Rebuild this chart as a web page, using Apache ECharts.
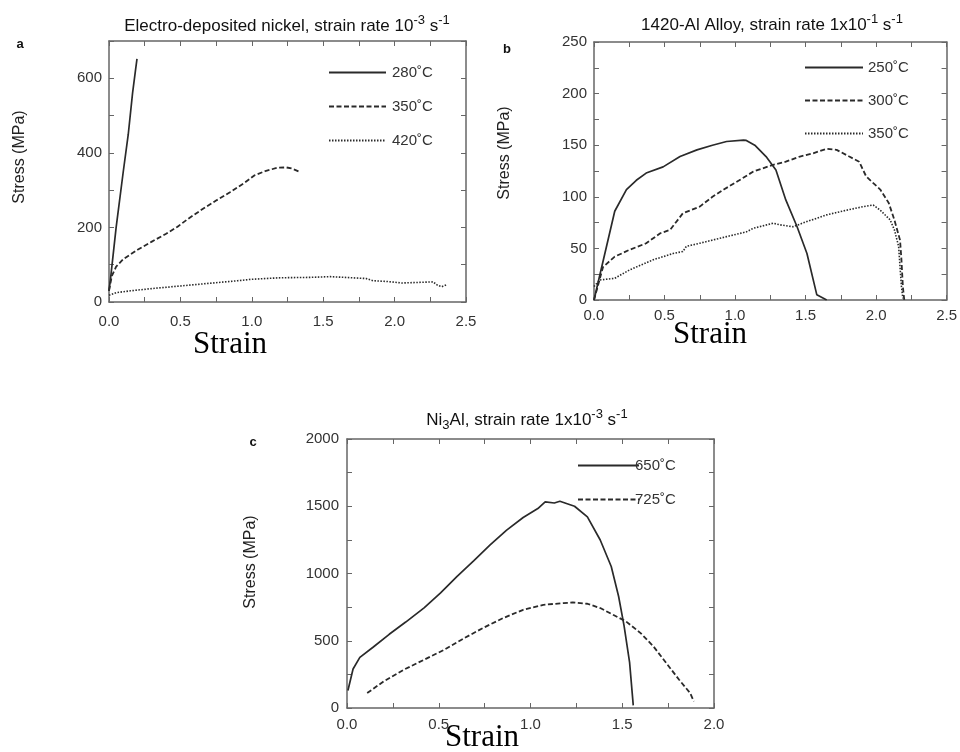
<!DOCTYPE html>
<html><head><meta charset="utf-8">
<script src="https://cdn.jsdelivr.net/npm/echarts@6/dist/echarts.min.js"></script>
<style>html,body{margin:0;padding:0;background:#fff}#c{width:960px;height:752px}</style>
</head><body><div id="c"></div>
<script>
// Panel a: Electro-deposited nickel
const a280 = [[0,30],[0.01,60],[0.05,200],[0.1,350],[0.135,450],[0.165,560],[0.185,620],[0.196,652]];
const a350 = [[0,30],[0.02,70],[0.05,95],[0.1,115],[0.2,140],[0.3,162],[0.4,183],[0.48,202],[0.55,222],[0.65,248],[0.75,272],[0.85,295],[0.95,320],[1.02,340],[1.1,352],[1.18,360],[1.24,361],[1.28,358],[1.33,350]];
const a420 = [[0,18],[0.05,25],[0.15,30],[0.3,36],[0.5,43],[0.7,50],[0.9,57],[1.0,61],[1.2,65],[1.4,66],[1.55,68],[1.7,65],[1.8,63],[1.85,57],[1.95,55],[2.05,51],[2.2,53],[2.27,54],[2.3,45],[2.33,41],[2.37,47]];
// Panel b: 1420-Al alloy
const b250 = [[0,0],[0.147,86],[0.23,107],[0.3,116],[0.37,123],[0.49,129],[0.61,139],[0.73,145.5],[0.84,150],[0.94,153.6],[1.06,155],[1.08,154.6],[1.14,150],[1.22,139],[1.29,126],[1.36,97],[1.44,71],[1.51,45],[1.58,5],[1.65,0]];
const b300 = [[0,0],[0.064,32],[0.147,42],[0.25,48.5],[0.37,55],[0.47,64.7],[0.54,68],[0.63,84],[0.75,90.5],[0.84,100],[0.92,107],[1.03,116],[1.13,124.5],[1.27,131],[1.36,134],[1.46,139],[1.55,142],[1.65,146.5],[1.72,145.5],[1.81,139],[1.88,134],[1.93,119.7],[2.03,107],[2.09,94],[2.13,77.6],[2.17,58],[2.18,39],[2.19,13],[2.2,0]];
const b350 = [[0,13],[0.04,19.4],[0.147,21],[0.25,29],[0.42,39],[0.56,45],[0.63,47],[0.655,52],[0.75,55],[0.94,61.4],[1.08,66],[1.13,69.5],[1.27,74.4],[1.32,72.8],[1.41,71],[1.51,76],[1.65,82.5],[1.79,87],[1.91,90.5],[1.98,92],[2.03,87],[2.1,77.6],[2.13,68],[2.16,52],[2.17,32],[2.18,13],[2.19,1.6]];
// Panel c: Ni3Al
const c650 = [[0.005,130],[0.033,290],[0.07,376],[0.14,450],[0.23,548],[0.32,639],[0.42,745],[0.51,856],[0.6,979],[0.69,1094],[0.78,1212],[0.87,1323],[0.96,1416],[1.04,1483],[1.08,1532],[1.13,1524],[1.16,1537],[1.24,1500],[1.31,1421],[1.38,1249],[1.44,1052],[1.48,831],[1.51,610],[1.54,339],[1.56,20]];
const c725 = [[0.11,111],[0.2,198],[0.31,285],[0.42,359],[0.53,433],[0.64,520],[0.74,594],[0.85,668],[0.96,730],[1.07,767],[1.18,780],[1.23,785],[1.31,775],[1.38,743],[1.45,693],[1.52,644],[1.6,557],[1.67,458],[1.74,334],[1.81,210],[1.87,111],[1.89,50]];
const legendA = ['280˚C','350˚C','420˚C'];
const legendB = ['250˚C','300˚C','350˚C\u200b'];
const legendC = ['650˚C','725˚C'];

const FONT = "'Liberation Sans', Arial, sans-serif";
const AX = '#666', TXT = '#333', LN = '#2a2a2a';
const solid = {color: LN, width: 1.7, type: 'solid'};
const dashed = {color: LN, width: 1.8, type: [5, 2.5]};
const dotted = {color: LN, width: 1.6, type: [1.5, 1.5]};

function xAxes(g, max, shown) {
  const base = {type:'value', gridIndex:g, min:0, max:max, interval:0.25,
    axisLine:{show:true, onZero:false, lineStyle:{color:AX, width:1.5}},
    axisTick:{show:true, inside:true, length:5, lineStyle:{color:AX}},
    splitLine:{show:false}};
  return [
    Object.assign({}, base, {position:'bottom', axisLabel:{show:true, margin:shown, color:TXT, fontSize:15, fontFamily:FONT,
      formatter: v => Math.abs(v*2 - Math.round(v*2)) < 1e-6 ? v.toFixed(1) : ''}}),
    Object.assign({}, base, {position:'top', axisLabel:{show:false}})
  ];
}
function yAxes(g, max, interval, labelStep, margin) {
  const base = {type:'value', gridIndex:g, min:0, max:max, interval:interval,
    axisLine:{show:true, onZero:false, lineStyle:{color:AX, width:1.5}},
    axisTick:{show:true, inside:true, length:5, lineStyle:{color:AX}},
    splitLine:{show:false}};
  return [
    Object.assign({}, base, {position:'left', axisLabel:{show:true, margin:margin, color:TXT, fontSize:15, fontFamily:FONT,
      formatter: v => (Math.abs(v/labelStep - Math.round(v/labelStep)) < 1e-6 && v <= max) ? String(v) : ''}}),
    Object.assign({}, base, {position:'right', axisLabel:{show:false}})
  ];
}
function ser(name, data, g, style) {
  return {type:'line', name:name, data:data, xAxisIndex:2*g, yAxisIndex:2*g,
    symbol:'none', showSymbol:false, lineStyle:style, itemStyle:{color:LN}, smooth:false, animation:false};
}
function leg(names, left, top, w, gap, textPad) {
  return {data:names, left:left, top:top, orient:'vertical', itemWidth:w, itemHeight:14, itemGap:gap,
    selectedMode:false, itemStyle:{opacity:0},
    textStyle:{fontSize:15, fontFamily:FONT, color:TXT, padding:[0,0,0,textPad], lineHeight:14}};
}
function txt(x, y, text, extra) {
  return {type:'text', x:x, y:y, silent:true,
    style:Object.assign({text:text, fill:'#111', font:'14px ' + FONT, align:'center', verticalAlign:'middle'}, extra||{})};
}
function ylab(x, y) {
  return {type:'text', x:x, y:y, rotation:Math.PI/2, silent:true,
    style:{text:'Stress (MPa)', fill:'#222', font:'16px ' + FONT, align:'center', verticalAlign:'middle'}};
}
function strain(x, y) {
  return {type:'text', x:x, y:y, silent:true,
    style:{text:'Strain', fill:'#000', font:"31px 'Liberation Serif', 'Times New Roman', serif", align:'center', verticalAlign:'middle'}};
}
const rich = {
  n:{fontSize:17, fontFamily:FONT, color:'#111', lineHeight:24},
  sup:{fontSize:13, fontFamily:FONT, color:'#111', lineHeight:12, verticalAlign:'top'},
  sub:{fontSize:13, fontFamily:FONT, color:'#111', lineHeight:14, verticalAlign:'bottom'}
};
function title(x, y, text) {
  return {type:'text', x:x, y:y, silent:true,
    style:{text:text, rich:rich, align:'center', verticalAlign:'middle', fill:'#111', font:'17px '+FONT}};
}

const chart = echarts.init(document.getElementById('c'), null, {renderer:'canvas'});
chart.setOption({
  animation:false,
  backgroundColor:'#fff',
  grid:[
    {left:109, top:41, width:357, height:261},
    {left:594, top:42, width:353, height:258},
    {left:347, top:439, width:367, height:269}
  ],
  xAxis:[].concat(xAxes(0, 2.5, 12), xAxes(1, 2.5, 8), xAxes(2, 2.0, 9)),
  yAxis:[].concat(yAxes(0, 700, 100, 200, 7), yAxes(1, 250, 25, 50, 7), yAxes(2, 2000, 250, 500, 8)),
  legend:[
    leg(legendA, 323, 60, 57, 19, 1),
    leg(legendB, 799, 55, 58, 18, 0),
    leg(legendC, 572, 453, 61, 19, -9)
  ],
  series:[
    ser(legendA[0], a280, 0, solid), ser(legendA[1], a350, 0, dashed), ser(legendA[2], a420, 0, dotted),
    ser(legendB[0], b250, 1, solid), ser(legendB[1], b300, 1, dashed), ser(legendB[2], b350, 1, dotted),
    ser(legendC[0], c650, 2, solid), ser(legendC[1], c725, 2, dashed)
  ],
  graphic:[
    title(287, 26, '{n|Electro-deposited nickel, strain rate 10}{sup|-3}{n| s}{sup|-1}'),
    title(772, 25, '{n|1420-Al Alloy, strain rate 1x10}{sup|-1}{n| s}{sup|-1}'),
    title(527, 420, '{n|Ni}{sub|3}{n|Al, strain rate 1x10}{sup|-3}{n| s}{sup|-1}'),
    txt(20, 44, 'a', {font:'bold 13px ' + FONT}),
    txt(507, 49, 'b', {font:'bold 13px ' + FONT}),
    txt(253, 442, 'c', {font:'bold 13px ' + FONT}),
    ylab(20, 157), ylab(505, 153), ylab(251, 562),
    strain(230, 345), strain(710, 335), strain(482, 738)
  ]
});
</script></body></html>
